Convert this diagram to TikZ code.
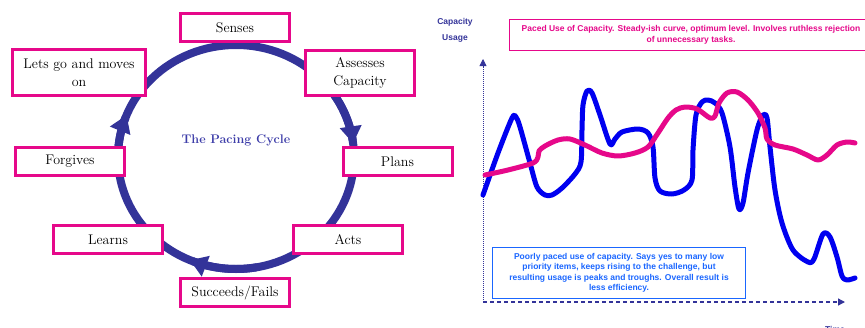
\documentclass[tikz,border=0pt]{standalone}
\usepackage{fontspec}
\newfontfamily\lsans{Liberation Sans}
\usetikzlibrary{arrows.meta}
\definecolor{cpink}{HTML}{E6088A}
\definecolor{cind}{HTML}{333399}
\definecolor{ctitle}{HTML}{3C3CA8}
\definecolor{cblue}{HTML}{0000F0}
\definecolor{cazure}{HTML}{1A66FF}
\tikzset{
  cyclebox/.style={draw=cpink, line width=3pt, fill=white, inner sep=0pt,
    font=\fontsize{14}{18}\selectfont, align=center,
    minimum width=109pt, minimum height=28pt},
  cycarc/.style={draw=cind, line width=8pt},
  cyctip/.style={cind, line width=8pt, -{Triangle[width=21pt,length=17pt]}},
  sanslab/.style={font=\lsans\bfseries\fontsize{8.5}{10.5}\selectfont, align=center},
  curve/.style={line width=5pt, line join=round, line cap=round}
}
\begin{document}
\begin{tikzpicture}[x=1pt,y=-1pt]
\useasboundingbox (0,0) rectangle (865,327);
% cycle ring
\draw[cycarc] (236,157) ellipse [x radius=118pt, y radius=112pt];
\draw[cyctip] plot[domain=-40:-7, samples=25] ({236+118*cos(\x)},{157+112*sin(\x)});
\draw[cyctip] plot[domain=80:113, samples=25] ({236+118*cos(\x)},{157+112*sin(\x)});
\draw[cyctip] plot[domain=170:202, samples=25] ({236+118*cos(\x)},{157+112*sin(\x)});
% boxes
\node[cyclebox] (senses) at (235,27.5) {Senses};
\node[cyclebox, minimum height=45pt] (assess) at (360,73) {Assesses\\Capacity};
\node[cyclebox, minimum width=133pt, minimum height=46pt] (letsgo) at (79,72.5) {Lets go and moves\\on};
\node[cyclebox] (forgives) at (70,161.5) {Forgives};
\node[cyclebox] (plans) at (397.5,161.5) {Plans};
\node[cyclebox] (acts) at (348,239.5) {Acts};
\node[cyclebox] (learns) at (108,239.5) {Learns};
\node[cyclebox] (succ) at (235,292.5) {Succeeds/Fails};
\node[font=\bfseries\fontsize{12.5}{14}\selectfont, text=ctitle] (title) at (236,140) {The Pacing Cycle};
% graph labels
\node[sanslab, text=cind] (cap) at (455,22) {Capacity};
\node[sanslab, text=cind] (usage) at (455,38) {Usage};
\node[sanslab, text=cind, anchor=north] (time) at (835,323) {Time};
% axes
\coordinate (orig) at (483,302);
\coordinate (ytop) at (483,59);
\coordinate (xend) at (845,302);
\draw[cind, line width=0.8pt, dash pattern=on 1pt off 1pt, -{Triangle[width=7pt,length=7pt]}] (orig) -- (ytop);
\draw[cind, line width=1.3pt, dash pattern=on 4pt off 3pt, -{Triangle[width=7pt,length=7pt]}] (orig) -- (xend);
% curves
\draw[curve, cblue] plot[smooth, tension=0.5] coordinates {(483,195) (498,153) (512,118) (516,117) (520,127) (530,163) (537,187) (545,195) (552,195) (562,188) (575,174) (581,162) (582,130) (583,105) (587,91) (592,93) (600,115) (610,144) (615,139) (622,132) (638,129) (648,133) (653,147) (655,178) (660,191) (672,194) (684,190) (692,180) (693,150) (696,115) (702,102) (708,100) (715,103) (722,113) (730,147) (735,187) (739,209) (743,203) (748,173) (757,130) (763,115) (767,118) (770,147) (775,190) (782,223) (793,250) (808,262) (814,259) (823,234) (830,237) (837,257) (842,276) (847,280) (855,278)};
\draw[curve, cpink] plot[smooth, tension=0.5] coordinates {(485,175) (508,170) (533,163) (538,157) (539,151) (545,146) (558,140) (570,139) (585,145) (602,153) (618,156) (635,153) (648,147) (658,133) (668,118) (676,110) (685,107) (697,109) (710,118) (715,116) (719,103) (727,93) (737,92) (748,100) (758,113) (765,128) (767,139) (775,145) (793,149) (807,155) (818,160) (827,155) (837,145) (847,142) (855,143)};
% text boxes
\node[sanslab, text=cpink, draw=cpink, fill=white, line width=1.3pt, minimum width=363pt, minimum height=31pt, inner sep=0pt] (paced) at (691,35) {Paced Use of Capacity. Steady-ish curve, optimum level. Involves ruthless rejection\\of unnecessary tasks.};
\node[sanslab, text=cazure, draw=cazure, fill=white, line width=1.2pt, minimum width=253pt, minimum height=51pt, inner sep=0pt] (poor) at (619,273) {Poorly paced use of capacity. Says yes to many low\\priority items, keeps rising to the challenge, but\\resulting usage is peaks and troughs. Overall result is\\less efficiency.};
\end{tikzpicture}
\end{document}
